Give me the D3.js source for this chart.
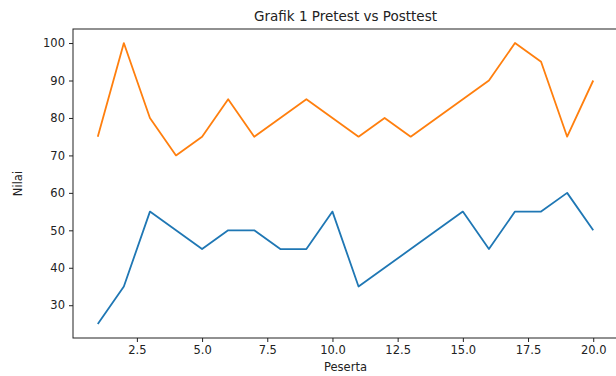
<!DOCTYPE html>
<html><head><meta charset="utf-8">
<script src="https://cdn.jsdelivr.net/npm/d3@7"></script>
<style>body{margin:0;background:#fff}svg{display:block}text{font-family:"DejaVu Sans",sans-serif;fill:#222}</style>
</head><body><svg id="c" width="616" height="376"></svg>
<script>
const peserta = [1,2,3,4,5,6,7,8,9,10,11,12,13,14,15,16,17,18,19,20];
const pretest = [25,35,55,50,45,50,50,45,45,55,35,40,45,50,55,45,55,55,60,50];
const posttest = [75,100,80,70,75,85,75,80,85,80,75,80,75,80,85,90,100,95,75,90];
const xTicks = [2.5,5.0,7.5,10.0,12.5,15.0,17.5,20.0];
const yTicks = [30,40,50,60,70,80,90,100];
const titleText = "Grafik 1 Pretest vs Posttest";

const svg = d3.select("#c");
const m = {l:73, r:618, t:29, b:338};
const x = d3.scaleLinear().domain([0.05,20.95]).range([m.l,m.r]);
const y = d3.scaleLinear().domain([21.25,103.75]).range([m.b,m.t]);

const xa = svg.append("g").attr("transform",`translate(0,${m.b})`)
  .call(d3.axisBottom(x).tickValues(xTicks).tickFormat(d3.format(".1f")).tickSizeOuter(0).tickSize(4).tickPadding(4));
const ya = svg.append("g").attr("transform",`translate(${m.l},0)`)
  .call(d3.axisLeft(y).tickValues(yTicks).tickSizeOuter(0).tickSize(4).tickPadding(4));
[xa,ya].forEach(a=>{a.selectAll("text").attr("font-size",11.5).attr("font-family","DejaVu Sans").style("fill","#222");
  a.selectAll("line").attr("stroke","#222");a.select(".domain").remove();});
svg.append("rect").attr("x",m.l).attr("y",m.t).attr("width",m.r-m.l).attr("height",m.b-m.t)
  .attr("fill","none").attr("stroke","#222").attr("stroke-width",1);

const line = d3.line().x((d,i)=>x(peserta[i])).y(d=>y(d));
svg.append("path").datum(pretest).attr("d",line).attr("fill","none").attr("stroke","#1f77b4").attr("stroke-width",1.8).attr("stroke-linejoin","round");
svg.append("path").datum(posttest).attr("d",line).attr("fill","none").attr("stroke","#ff7f0e").attr("stroke-width",1.8).attr("stroke-linejoin","round");

svg.append("text").attr("x",(m.l+m.r)/2).attr("y",21).attr("text-anchor","middle").attr("font-size",13.5).text(titleText);
svg.append("text").attr("x",(m.l+m.r)/2).attr("y",371).attr("text-anchor","middle").attr("font-size",11.5).text("Peserta");
svg.append("text").attr("transform",`translate(22,${(m.t+m.b)/2}) rotate(-90)`).attr("text-anchor","middle").attr("font-size",11.5).text("Nilai");
</script></body></html>
